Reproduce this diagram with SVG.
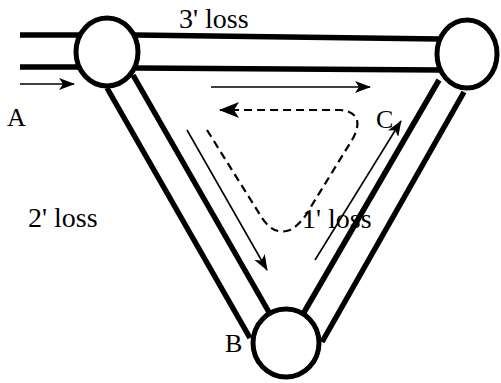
<svg xmlns="http://www.w3.org/2000/svg" width="501" height="383" viewBox="0 0 501 383">
<defs>
<style>
.pipe{stroke:#000;stroke-width:5.5;fill:none;stroke-linecap:butt}
.node{fill:#fff;stroke:#000;stroke-width:5}
.thin{stroke:#000;stroke-width:1.6;fill:none}
.dash{stroke:#000;stroke-width:2.2;fill:none;stroke-dasharray:8,5}
text{font-family:"Liberation Serif","Times New Roman",serif;font-size:26px;fill:#000}
.lbl{font-size:28px}
</style>
<marker id="ah" viewBox="0 0 16 12" refX="15" refY="6" markerWidth="16" markerHeight="12" markerUnits="userSpaceOnUse" orient="auto">
<path d="M0,0 L16,6 L0,12 L4,6 Z" fill="#000"/>
</marker>
<marker id="ahb" viewBox="0 0 20 16" refX="19" refY="8" markerWidth="20" markerHeight="16" markerUnits="userSpaceOnUse" orient="auto">
<path d="M0,0 L20,8 L0,16 L5,8 Z" fill="#000"/>
</marker>
</defs>
<g id="connectors">
<line class="pipe" x1="20" y1="35" x2="80" y2="35"/>
<line class="pipe" x1="20" y1="67" x2="80" y2="67"/>
<line class="pipe" x1="135" y1="35" x2="440" y2="39"/>
<line class="pipe" x1="135" y1="68" x2="440" y2="70"/>
<line class="pipe" x1="107" y1="88" x2="250" y2="338"/>
<line class="pipe" x1="133" y1="75" x2="270" y2="314"/>
<line class="pipe" x1="439" y1="80" x2="303" y2="314"/>
<line class="pipe" x1="464" y1="92" x2="322" y2="342"/>
<line class="thin" x1="20" y1="84" x2="74" y2="84" marker-end="url(#ah)"/>
<line class="thin" x1="211" y1="87" x2="370" y2="87" marker-end="url(#ah)"/>
<line class="thin" x1="187" y1="130" x2="267" y2="270" marker-end="url(#ah)"/>
<line class="thin" x1="315" y1="260" x2="401" y2="121" marker-end="url(#ah)"/>
<path class="dash" d="M207,130 L262,218 Q274,236 290,230 Q302,224 312,205 L352,140 Q359,128 357,120 Q354,111 340,110 L220,110" marker-end="url(#ahb)"/>
</g>
<g id="node-A">
<ellipse class="node" cx="107" cy="52" rx="31" ry="34"/>
<text x="7" y="126">A</text>
</g>
<g id="node-C">
<ellipse class="node" cx="467" cy="54" rx="30" ry="34"/>
<text x="376" y="128">C</text>
</g>
<g id="node-B">
<ellipse class="node" cx="286" cy="343" rx="33" ry="34"/>
<text x="225" y="352">B</text>
</g>
<g id="labels">
<text class="lbl" x="179" y="28">3' loss</text>
<text class="lbl" x="28" y="227">2' loss</text>
<text class="lbl" x="302" y="228">1' loss</text>
</g>
</svg>
